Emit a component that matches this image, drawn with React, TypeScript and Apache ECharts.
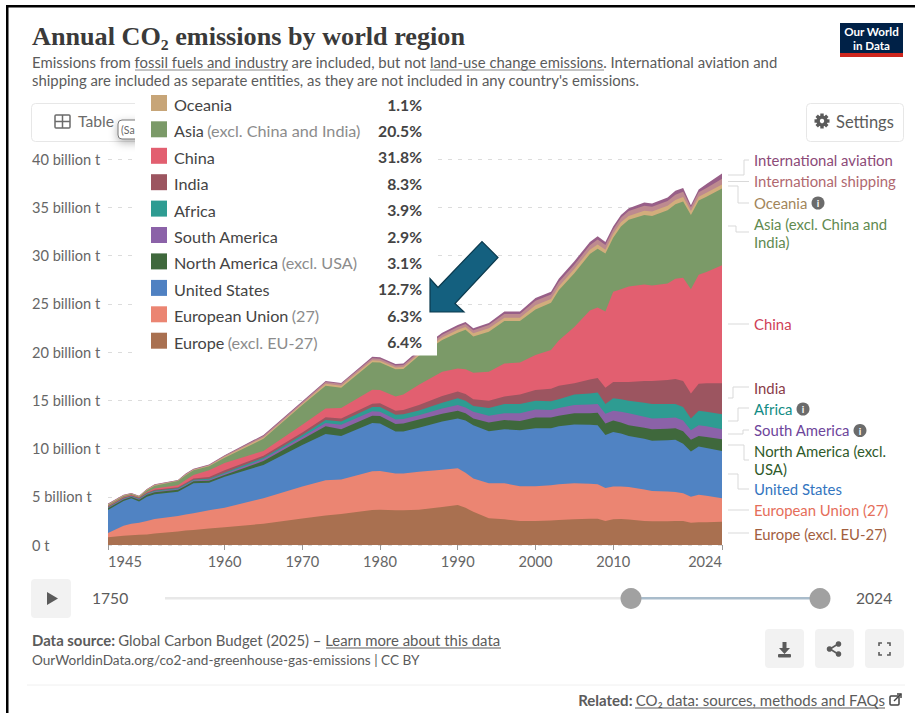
import React, { useEffect, useRef } from "react";
import * as echarts from "echarts";

const years = [1945,1947,1948,1949,1950,1951,1954,1955,1956,1958,1960,1965,1970,1973,1975,1979,1980,1982,1983,1985,1988,1990,1991,1992,1994,1996,1998,2000,2002,2003,2005,2007,2008,2009,2010,2011,2012,2014,2015,2017,2018,2019,2020,2021,2022,2024];

const europe = [.8,.95,1.0,1.05,1.1,1.2,1.4,1.5,1.55,1.7,1.85,2.2,2.75,3.05,3.2,3.62,3.65,3.6,3.6,3.65,3.95,4.15,3.85,3.45,2.76,2.66,2.5,2.5,2.55,2.6,2.66,2.73,2.73,2.5,2.66,2.7,2.65,2.5,2.45,2.45,2.5,2.5,2.3,2.35,2.35,2.4];
const europeanUnion = [.45,1.05,1.2,1.25,1.4,1.5,1.6,1.65,1.75,1.9,2.02,2.65,3.3,3.65,3.6,4.03,4.02,3.8,3.8,3.95,3.85,3.8,3.65,3.45,3.64,3.74,3.6,3.6,3.65,3.7,3.74,3.62,3.57,3.4,3.39,3.35,3.35,3.25,3.15,3.1,3.0,2.85,2.7,2.85,2.75,2.45];
const unitedStates = [2.38,2.56,2.64,2.2,2.5,2.55,2.53,2.8,3.1,2.85,3.2,3.45,4.31,4.8,4.5,5.0,4.93,4.35,4.35,4.55,5.0,5.15,5.4,5.5,5.4,5.6,5.8,6.0,5.9,6.0,6.1,6.1,6.1,5.5,5.65,5.5,5.3,5.25,5.2,5.3,5.4,5.15,4.7,5.0,4.95,4.9];
const northAmerica = [.17,.16,.13,.2,.2,.22,.2,.2,.2,.2,.18,.4,.59,.8,.7,.75,.77,.8,.85,.85,.8,.8,.75,.7,.9,.95,.95,1.1,1.1,1.1,1.15,1.2,1.3,1.2,1.2,1.15,1.1,1.15,1.2,1.2,1.2,1.3,1.2,1.1,1.15,1.2];
const southAmerica = [.05,.06,.05,.06,.07,.08,.07,.08,.08,.11,.13,.2,.25,.35,.45,.45,.43,.45,.45,.45,.55,.6,.6,.7,.7,.7,.8,.85,.8,.8,.85,.9,.9,1.0,1.0,1.1,1.25,1.15,1.1,1.1,1.1,1.1,1.0,1.1,1.1,1.05];
const africa = [.05,.06,.05,.06,.06,.08,.07,.08,.08,.1,.12,.15,.2,.3,.35,.45,.5,.5,.5,.5,.6,.7,.7,.6,.8,.95,.95,.9,.9,.9,1.1,1.15,1.2,1.0,1.3,1.3,1.3,1.45,1.5,1.45,1.4,1.4,1.2,1.5,1.5,1.55];
const india = [.1,.08,.07,.08,.09,.1,.11,.12,.14,.19,.25,.2,.25,.3,.3,.35,.4,.4,.45,.55,.7,.7,.7,.7,.75,.8,1.0,1.1,1.3,1.4,1.15,1.45,1.5,1.7,1.7,1.8,1.95,2.25,2.4,2.5,2.6,2.7,2.6,2.8,2.95,3.2];
const china = [.05,.05,.06,.03,.08,.12,.2,.3,.35,.7,.75,.5,.8,.9,1.1,1.45,1.36,1.5,1.6,2.1,2.5,2.4,2.55,2.75,3.0,3.4,3.3,3.65,4.0,4.7,5.85,7.15,7.3,7.9,9.35,9.6,9.9,10.0,9.9,10.0,10.4,10.7,10.8,11.3,11.55,12.25];
const asia = [.1,.11,.08,.07,.18,.3,.44,.5,.5,.4,.55,1.25,2.05,2.35,2.1,2.85,2.84,2.8,2.65,3.0,3.3,3.7,4.1,3.75,4.15,4.4,4.3,4.7,4.9,5.2,5.55,5.85,6.1,6.0,5.6,6.5,6.9,7.2,7.2,7.6,7.7,7.9,7.7,7.7,7.8,7.95];
const oceania = [.05,.04,.04,.04,.04,.05,.05,.06,.06,.07,.1,.15,.15,.2,.2,.2,.2,.2,.2,.2,.25,.3,.3,.35,.35,.35,.35,.45,.4,.4,.45,.45,.45,.4,.4,.45,.4,.45,.45,.45,.45,.45,.4,.4,.4,.4];
const shipping = [.05,.05,.05,.03,.05,.06,.04,.06,.05,.08,.1,.15,.15,.2,.2,.2,.2,.2,.2,.2,.3,.3,.3,.3,.35,.4,.4,.45,.45,.45,.45,.45,.5,.5,.45,.45,.5,.5,.5,.5,.55,.55,.4,.45,.5,.6];
const aviation = [.05,.03,.03,.03,.03,.04,.03,.05,.04,.05,.05,.1,.1,.1,.1,.15,.15,.15,.15,.2,.2,.2,.2,.2,.2,.25,.25,.3,.3,.35,.35,.35,.35,.3,.3,.3,.3,.35,.35,.35,.4,.4,.2,.3,.4,.55];

const xTicks = [1945,1960,1970,1980,1990,2000,2010,2024];

const legendNames = ["Oceania","Asia","China","India","Africa","South America","North America","United States","European Union","Europe"];
const legendNotes = ["","(excl. China and India)","","","","","(excl. USA)","","(27)","(excl. EU-27)"];
const legendShares = ["1.1%","20.5%","31.8%","8.3%","3.9%","2.9%","3.1%","12.7%","6.3%","6.4%"];
const legendColors = ["#C7A578","#7B9A68","#E25F70","#9C5560","#2E9C92","#8B62A8","#3F683C","#4F81C2","#EB8572","#A97050"];

const endLabels = ["International aviation","International shipping","Oceania","Asia (excl. China and\nIndia)","China","India","Africa","South America","North America (excl.\nUSA)","United States","European Union (27)","Europe (excl. EU-27)"];
const endColors = ["#8C4A78","#B0686F","#A2855A","#5F8A50","#CF3F58","#8A3B47","#128C85","#6D459B","#2F5A2B","#3375C0","#E56E5A","#A2603F"];

const FONT = "Lato";

function txt(x: number, y: number, text: string, size: number, fill: string, extra: any = {}, styleExtra: any = {}) {
  return {
    type: "text", x, y, silent: true, ...extra,
    style: { text, fontSize: size, fontFamily: FONT, fill, verticalAlign: "middle", ...styleExtra },
  };
}
function line(x1: number, y1: number, x2: number, y2: number, stroke: string, lineWidth = 1) {
  return { type: "line", silent: true, shape: { x1, y1, x2, y2 }, style: { stroke, lineWidth } };
}
function poly(points: number[][], stroke: string, lineWidth = 1) {
  return { type: "polyline", silent: true, shape: { points }, style: { stroke, lineWidth, fill: "none" } };
}
function box(x: number, y: number, width: number, height: number, fill: string, r = 0, stroke?: string) {
  return { type: "rect", silent: true, shape: { x, y, width, height, r }, style: { fill, stroke, lineWidth: stroke ? 1 : 0 } };
}
function gear(cx: number, cy: number) {
  const out: any[] = [];
  for (let k = 0; k < 4; k++) {
    out.push({ type: "rect", silent: true, x: cx, y: cy, rotation: (k * Math.PI) / 4, shape: { x: -1.7, y: -7.5, width: 3.4, height: 15 }, style: { fill: "#5b5b5b" } });
  }
  out.push({ type: "circle", silent: true, shape: { cx, cy, r: 5.6 }, style: { fill: "#5b5b5b" } });
  out.push({ type: "circle", silent: true, shape: { cx, cy, r: 2.2 }, style: { fill: "#fff" } });
  return out;
}
function info(cx: number, cy: number) {
  return [
    { type: "circle", silent: true, shape: { cx, cy, r: 6.5 }, style: { fill: "#6b6b6b" } },
    txt(cx, cy, "i", 10, "#fff", {}, { align: "center", fontWeight: "bold" }),
  ];
}

function buildGraphic() {
  const g: any[] = [];
  g.push(box(6, 5, 2.5, 708, "#000"));
  g.push(box(6, 5, 909, 2.5, "#000"));

  g.push(txt(32, 36.5, "Annual CO\u2082 emissions by world region", 26.2, "#3a3a3a", {}, { fontFamily: "Liberation Serif", fontWeight: "bold" }));
  g.push(txt(32, 62, "Emissions from fossil fuels and industry are included, but not land-use change emissions. International aviation and", 14.9, "#5b5b5b"));
  g.push(txt(32, 80, "shipping are included as separate entities, as they are not included in any country's emissions.", 14.9, "#5b5b5b"));
  g.push(line(135, 70, 288, 70, "#8a8a8a"));
  g.push(line(430, 70, 604, 70, "#8a8a8a"));

  g.push(box(840, 23, 63, 34, "#002147"));
  g.push(box(840, 53, 63, 4, "#CE261E"));
  g.push(txt(871.5, 38, "Our World\nin Data", 11.6, "#fff", {}, { align: "center", fontWeight: "bold", lineHeight: 14 }));

  g.push(box(31.5, 103.5, 120, 38, "#fff", 4, "#e7e7e7"));
  g.push({ type: "rect", silent: true, shape: { x: 55, y: 115, width: 15, height: 13, r: 1 }, style: { fill: "none", stroke: "#6b6b6b", lineWidth: 1.5 } });
  g.push(line(55, 121.5, 70, 121.5, "#6b6b6b", 1.5));
  g.push(line(62.5, 115, 62.5, 128, "#6b6b6b", 1.5));
  g.push(txt(78, 121, "Table", 15.7, "#6b6b6b"));
  g.push(box(806.5, 103.5, 97, 38, "#fff", 4, "#e7e7e7"));
  gear(822, 121).forEach((e) => g.push(e));
  g.push(txt(836, 121.5, "Settings", 16.5, "#5b5b5b"));

  const C = "#d9d9d9";
  g.push(poly([[728, 175], [744, 175], [744, 160], [749, 160]], C));
  g.push(poly([[728, 181.5], [749, 181.5]], C));
  g.push(poly([[728, 186], [738, 186], [738, 203], [749, 203]], C));
  g.push(poly([[728, 226], [736, 226], [736, 232], [749, 232]], C));
  g.push(poly([[728, 324], [749, 324]], C));
  g.push(poly([[728, 398], [733, 398], [733, 387], [749, 387]], C));
  g.push(poly([[728, 421], [738, 421], [738, 408], [749, 408]], C));
  g.push(poly([[728, 434], [743, 434], [743, 430], [749, 430]], C));
  g.push(poly([[728, 445], [744, 445], [744, 460], [749, 460]], C));
  g.push(poly([[728, 474], [738, 474], [738, 489], [749, 489]], C));
  g.push(poly([[728, 510], [749, 510]], C));
  g.push(poly([[728, 533], [749, 533]], C));

  const endY = [160, 181, 202.5, 232.5, 323.5, 387.5, 408.5, 430, 459.5, 489, 510, 533.5];
  endLabels.forEach((t, i) => {
    g.push(txt(754, endY[i], t, 14.9, endColors[i], {}, { lineHeight: 18 }));
  });
  info(818, 203).forEach((e) => g.push(e));
  info(803, 409).forEach((e) => g.push(e));
  info(860, 430.5).forEach((e) => g.push(e));

  g.push({ type: "rect", silent: true, shape: { x: 118, y: 120, width: 30, height: 19, r: 4 }, style: { fill: "#fff", stroke: "#777", lineWidth: 1, shadowBlur: 8, shadowColor: "rgba(0,0,0,0.3)", shadowOffsetY: 3 } });
  g.push(txt(121, 129.5, "(Sa", 10.5, "#666"));

  g.push(box(135, 92, 302, 263.5, "#fff"));
  const rowY = [104.5, 130.8, 157.3, 183.7, 210.1, 236.5, 262.9, 289.4, 315.8, 342.2];
  legendNames.forEach((n, i) => {
    g.push(box(151, rowY[i] - 9.5, 16, 16, legendColors[i]));
    g.push({
      type: "text", silent: true, x: 174, y: rowY[i],
      style: {
        text: legendNotes[i] ? `{a|${n}} {b|${legendNotes[i]}}` : `{a|${n}}`,
        verticalAlign: "middle",
        rich: {
          a: { fontFamily: FONT, fontSize: 16.2, fill: "#444" },
          b: { fontFamily: FONT, fontSize: 16.2, fill: "#8c8c8c" },
        },
      },
    });
    g.push(txt(422, rowY[i], legendShares[i], 15.7, "#444", {}, { align: "right", fontWeight: "bold" }));
  });

  g.push({
    type: "polygon", silent: true,
    shape: { points: [[430, 278.5], [430, 312], [464, 312], [455, 303.5], [498, 257.5], [482, 241.5], [438, 287.5]] },
    style: { fill: "#14607F", stroke: "#0B3A4E", lineWidth: 1.2 },
  });

  g.push(box(31, 579, 40, 39, "#f2f2f2", 4));
  g.push({ type: "polygon", silent: true, shape: { points: [[47, 592], [47, 605], [58, 598.5]] }, style: { fill: "#5b5b5b" } });
  g.push(txt(92, 598, "1750", 15.6, "#5b5b5b"));
  g.push(box(165, 597, 466, 2.5, "#e8e8e8"));
  g.push(box(631, 597, 189, 2.5, "#A9BCCB"));
  g.push({ type: "circle", silent: true, shape: { cx: 631, cy: 598.5, r: 10.5 }, style: { fill: "#A1A1A1" } });
  g.push({ type: "circle", silent: true, shape: { cx: 820, cy: 598.5, r: 10.5 }, style: { fill: "#A1A1A1" } });
  g.push(txt(856, 598, "2024", 15.6, "#5b5b5b"));

  g.push({
    type: "text", silent: true, x: 32, y: 640,
    style: {
      text: "{a|Data source:} {b|Global Carbon Budget (2025) \u2013 Learn more about this data}",
      verticalAlign: "middle",
      rich: {
        a: { fontFamily: FONT, fontSize: 14.9, fontWeight: "bold", fill: "#5b5b5b" },
        b: { fontFamily: FONT, fontSize: 14.9, fill: "#5b5b5b" },
      },
    },
  });
  g.push(line(326, 648, 501, 648, "#5b5b5b"));
  g.push(txt(32, 660, "OurWorldinData.org/co2-and-greenhouse-gas-emissions | CC BY", 13.6, "#5b5b5b"));

  [765, 815, 865].forEach((x) => g.push(box(x, 629, 39, 39, "#f2f2f2", 4)));
  g.push({ type: "polygon", silent: true, shape: { points: [[782.5, 642], [786.5, 642], [786.5, 648], [790, 648], [784.5, 654], [779, 648], [782.5, 648]] }, style: { fill: "#5b5b5b" } });
  g.push(box(778, 654, 13, 3.5, "#5b5b5b", 1));
  g.push(line(830, 649, 838, 644, "#5b5b5b", 1.6));
  g.push(line(830, 649, 838, 654, "#5b5b5b", 1.6));
  [[829.5, 649], [838.5, 644], [838.5, 654]].forEach(([cx, cy]) => g.push({ type: "circle", silent: true, shape: { cx, cy, r: 2.8 }, style: { fill: "#5b5b5b" } }));
  g.push(poly([[879, 646], [879, 643], [882, 643]], "#5b5b5b", 1.6));
  g.push(poly([[887, 643], [890, 643], [890, 646]], "#5b5b5b", 1.6));
  g.push(poly([[879, 652], [879, 655], [882, 655]], "#5b5b5b", 1.6));
  g.push(poly([[887, 655], [890, 655], [890, 652]], "#5b5b5b", 1.6));

  g.push(line(27, 685, 905, 685, "#f0f0f0"));
  g.push({
    type: "text", silent: true, x: 885, y: 700,
    style: {
      text: "{a|Related:} {b|CO\u2082 data: sources, methods and FAQs}",
      align: "right", verticalAlign: "middle",
      rich: {
        a: { fontFamily: FONT, fontSize: 15, fontWeight: "bold", fill: "#5b5b5b" },
        b: { fontFamily: FONT, fontSize: 15, fill: "#5b5b5b" },
      },
    },
  });
  g.push(line(635, 708, 885, 708, "#5b5b5b"));
  g.push({ type: "rect", silent: true, shape: { x: 890, y: 696, width: 9, height: 9, r: 1 }, style: { fill: "none", stroke: "#444", lineWidth: 1.5 } });
  g.push(line(894, 701, 901, 694, "#444", 1.5));
  g.push(poly([[897, 694], [901, 694], [901, 698]], "#444", 1.5));
  g.forEach((e) => { e.z = 50; });
  return g;
}

const seriesDefs: [string, number[], string][] = [
  ["Europe (excl. EU-27)", europe, "#A97050"],
  ["European Union (27)", europeanUnion, "#EB8572"],
  ["United States", unitedStates, "#5083C3"],
  ["North America (excl. USA)", northAmerica, "#3F683C"],
  ["South America", southAmerica, "#8B62A8"],
  ["Africa", africa, "#2E9C92"],
  ["India", india, "#9C5560"],
  ["China", china, "#E25F70"],
  ["Asia (excl. China and India)", asia, "#7B9A68"],
  ["Oceania", oceania, "#D2AD7C"],
  ["International shipping", shipping, "#BD8A8F"],
  ["International aviation", aviation, "#985F88"],
];

// Running totals, so each band's upper edge is drawn through the axis scale;
// painted tallest first, so each lower band covers the one above it.
function buildSeries() {
  const running = years.map(() => 0);
  const out = seriesDefs.map(([name, vals, color]) => {
    const data = years.map((y, i) => {
      running[i] += vals[i];
      return [y, Math.round(running[i] * 100) / 100];
    });
    return {
      name, type: "line", symbol: "none", showSymbol: false, smooth: false,
      z: 3, lineStyle: { width: 0 }, itemStyle: { color },
      areaStyle: { color, opacity: 1 }, data,
    };
  });
  return out.reverse();
}

export default function App() {
  const ref = useRef<HTMLDivElement>(null);
  useEffect(() => {
    document.body.style.margin = "0";
    const chart = echarts.init(ref.current!, undefined, { renderer: "svg" });
    chart.setOption({
      animation: false,
      backgroundColor: "#fff",
      grid: { left: 108, right: 193, top: 159, bottom: 168 },
      xAxis: {
        type: "value", min: 1945, max: 2024,
        splitLine: { show: false },
        axisLine: { show: false },
        axisTick: { show: true, length: 5, customValues: xTicks, lineStyle: { color: "#999" } },
        axisLabel: {
          customValues: xTicks, margin: 9, fontFamily: FONT, fontSize: 14.6, color: "#666",
          alignMinLabel: "left", alignMaxLabel: "right", formatter: (v: number) => String(v),
        },
      },
      yAxis: {
        type: "value", min: 0, max: 40, interval: 5,
        axisLine: { show: false }, axisTick: { show: false },
        splitLine: { show: true, lineStyle: { type: [4, 6], color: "#dcdcdc", width: 1 } },
        axisLabel: {
          align: "left", margin: 76, fontFamily: FONT, fontSize: 14.6, color: "#666",
          formatter: (v: number) => (v === 0 ? "0 t" : `${v} billion t`),
        },
      },
      series: buildSeries(),
      graphic: { elements: buildGraphic() },
    });
    return () => chart.dispose();
  }, []);
  return <div ref={ref} style={{ position: "absolute", left: 0, top: 0, width: 915, height: 713 }} />;
}
